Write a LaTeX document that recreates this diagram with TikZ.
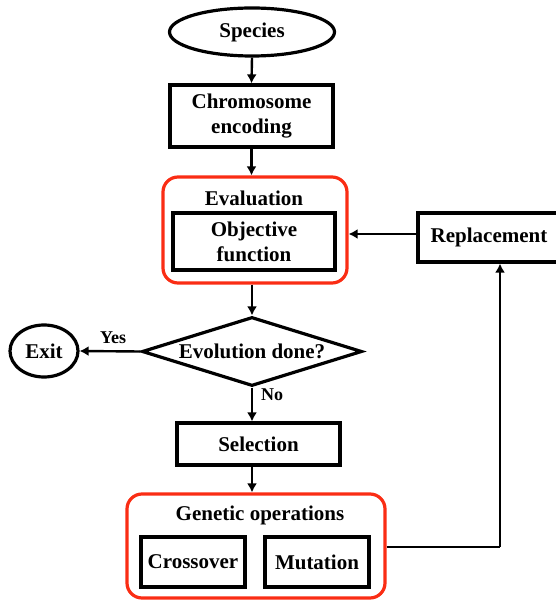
\documentclass[tikz,border=0pt]{standalone}
\usepackage{fontspec}
\setmainfont{Liberation Serif}
\usetikzlibrary{shapes.geometric,arrows.meta}
\definecolor{groupred}{RGB}{250,45,20}
\begin{document}
\begin{tikzpicture}[x=1pt,y=-1pt,
  every node/.style={font=\fontsize{21}{25}\selectfont\bfseries, inner sep=0pt, align=center},
  stepbox/.style={draw=black, line width=3.2pt, rectangle},
  oval/.style={draw=black, line width=3.2pt, ellipse},
  decision/.style={draw=black, line width=3.2pt, diamond, aspect=3.2},
  group/.style={draw=groupred, line width=3.2pt, rounded corners=15pt},
  conn/.style={line width=2.4pt, -{Latex[length=9pt,width=10pt]}},
  plain/.style={line width=2.4pt}]
\useasboundingbox (0,0) rectangle (555,601);

% start
\node[oval, minimum width=165, minimum height=48] (species) at (252,32) {Species};
\node[stepbox, minimum width=163, minimum height=62] (chrom) at (251.5,116) {Chromosome\\encoding};

% evaluation group
\node[group, minimum width=184, minimum height=106] (eval) at (255,230) {};
\node (evaltitle) at (254,198) {Evaluation};
\node[stepbox, minimum width=162, minimum height=57] (objective) at (254,241.5) {Objective\\function};

% replacement
\node[stepbox, minimum width=142, minimum height=49] (repl) at (489,237.5) {Replacement};

% decision
\node[decision, minimum width=220, minimum height=69] (done) at (252,351.5) {Evolution done?};
\node[oval, minimum width=68, minimum height=52] (exit) at (44,351) {Exit};
\node (yes) at (113,338) {\fontsize{18}{20}\selectfont Yes};
\node (no) at (272,395) {\fontsize{18}{20}\selectfont No};

% selection
\node[stepbox, minimum width=163, minimum height=42] (select) at (258.5,444) {Selection};

% genetic operations group
\node[group, minimum width=258, minimum height=104] (gen) at (256,546) {};
\node (gentitle) at (260,515) {Genetic operations};
\node[stepbox, minimum width=104, minimum height=50] (cross) at (193,562) {Crossover};
\node[stepbox, minimum width=104, minimum height=50] (mut) at (317,562) {Mutation};

\coordinate (turn) at (500,547);

% connectors
\draw[conn] (species.south) -- (chrom.north);
\draw[conn] (chrom.south) -- (chrom.south |- eval.north);
\draw[conn] (eval.south -| done.north) -- (done.north);
\draw[conn] (done.west) -- (exit.east);
\draw[conn] (done.south) -- (done.south |- select.north);
\draw[conn] (select.south -| done.south) -- (done.south |- gen.north);
\draw[plain] (gen.east |- turn) -- (turn);
\draw[conn] (turn) -- (turn |- repl.south);
\draw[conn] ([yshift=3.5pt]repl.west) -- ([yshift=3.5pt]repl.west -| eval.east);
\end{tikzpicture}
\end{document}
